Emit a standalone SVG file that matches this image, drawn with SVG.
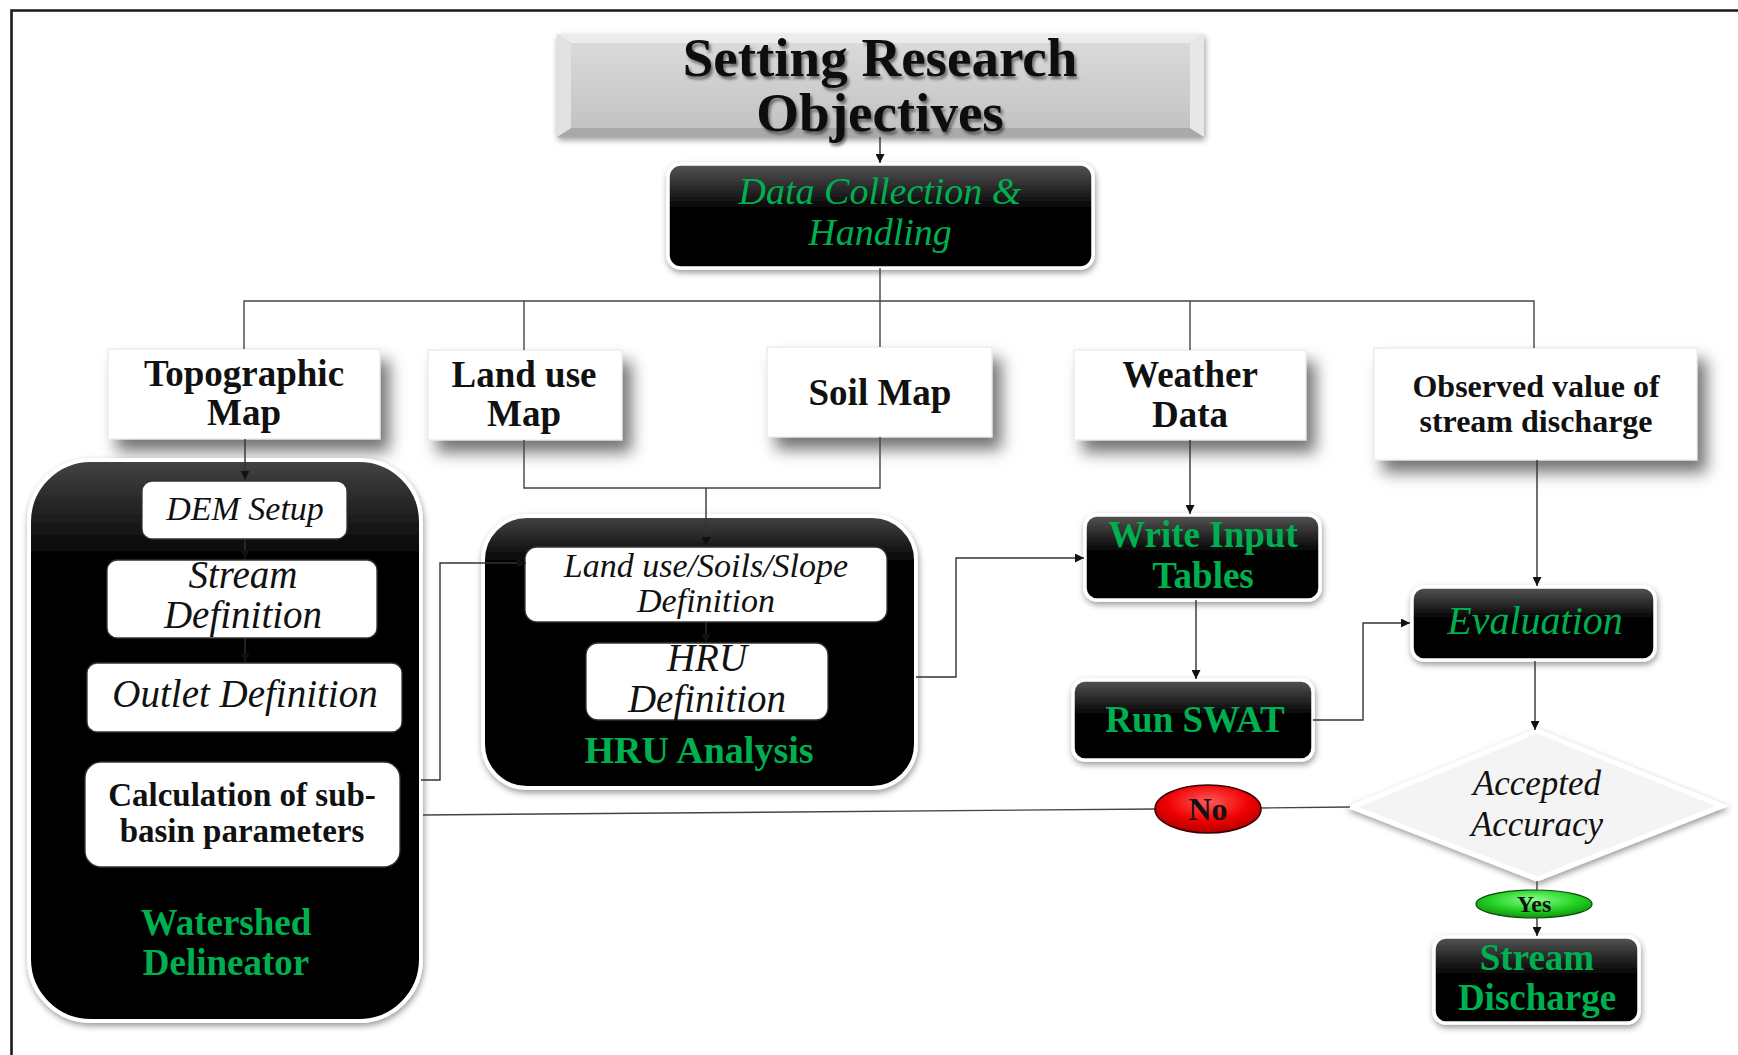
<svg xmlns="http://www.w3.org/2000/svg" width="1738" height="1055" viewBox="0 0 1738 1055">
<defs>
  <linearGradient id="blkg" x1="0" y1="0" x2="0" y2="1">
    <stop offset="0" stop-color="#555"/>
    <stop offset="0.45" stop-color="#000"/>
    <stop offset="1" stop-color="#000"/>
  </linearGradient>
  <linearGradient id="blkbig" x1="0" y1="0" x2="0" y2="1">
    <stop offset="0" stop-color="#444"/>
    <stop offset="0.18" stop-color="#000"/>
    <stop offset="1" stop-color="#000"/>
  </linearGradient>
  <linearGradient id="titleg" x1="0" y1="0" x2="0" y2="1">
    <stop offset="0" stop-color="#dadada"/>
    <stop offset="1" stop-color="#c3c3c3"/>
  </linearGradient>
  <radialGradient id="redg" cx="0.5" cy="0.35" r="0.65">
    <stop offset="0" stop-color="#ff5a5a"/>
    <stop offset="0.6" stop-color="#f00000"/>
    <stop offset="1" stop-color="#b00000"/>
  </radialGradient>
  <radialGradient id="grng" cx="0.5" cy="0.35" r="0.65">
    <stop offset="0" stop-color="#8cff8c"/>
    <stop offset="0.6" stop-color="#22d022"/>
    <stop offset="1" stop-color="#109010"/>
  </radialGradient>
  <filter id="bigsh" x="-20%" y="-20%" width="150%" height="170%">
    <feDropShadow dx="9" dy="12" stdDeviation="8" flood-color="#000" flood-opacity="0.55"/>
  </filter>
  <filter id="smsh" x="-10%" y="-10%" width="125%" height="130%">
    <feDropShadow dx="1" dy="3" stdDeviation="3" flood-color="#000" flood-opacity="0.4"/>
  </filter>
  <filter id="tsh" x="-10%" y="-20%" width="120%" height="150%">
    <feDropShadow dx="2" dy="3" stdDeviation="1.6" flood-color="#000" flood-opacity="0.5"/>
  </filter>
  <marker id="ah" viewBox="0 0 10 10" refX="10" refY="5" markerWidth="10" markerHeight="9" markerUnits="userSpaceOnUse" orient="auto">
    <path d="M0,0 L10,5 L0,10 z" fill="#111"/>
  </marker>
  <style>
    .t{font-family:"Liberation Serif","DejaVu Serif",serif;text-anchor:middle}
    .b{font-weight:bold}
    .i{font-style:italic}
    .g{fill:#00b050}
    .k{fill:#111}
    .map{fill:#fff;stroke:#e4e4e4;stroke-width:1;filter:url(#bigsh)}
    .blk{fill:url(#blkg);stroke:#fff;stroke-width:3.5;filter:url(#smsh)}
    .big{fill:url(#blkbig);stroke:#fff;stroke-width:4;filter:url(#smsh)}
    .inn{fill:#fff;stroke:#333;stroke-width:1.3}
    .ln{fill:none;stroke:#444;stroke-width:1.4}
    .ar{fill:none;stroke:#333;stroke-width:1.4;marker-end:url(#ah)}
  </style>
</defs>
<rect width="1738" height="1055" fill="#fff"/>
<path d="M11.5,1055 V10.5 H1738" fill="none" stroke="#1a1a1a" stroke-width="2.6"/>

<g id="title">
  <g filter="url(#smsh)">
    <rect x="557" y="34" width="647" height="103" fill="#c8c8c8"/>
    <polygon points="557,34 1204,34 1190,43 571,43" fill="#ececec"/>
    <polygon points="557,137 1204,137 1190,128 571,128" fill="#a9a9a9"/>
    <polygon points="557,34 571,43 571,128 557,137" fill="#e2e2e2"/>
    <polygon points="1204,34 1190,43 1190,128 1204,137" fill="#e8e8e8"/>
    <rect x="571" y="43" width="619" height="85" fill="url(#titleg)"/>
  </g>
  <g filter="url(#tsh)">
    <text class="t b k" x="880" y="76" font-size="55">Setting Research</text>
    <text class="t b k" x="880" y="131" font-size="55">Objectives</text>
  </g>
</g>

<g id="data-collection">
  <rect class="blk" x="668" y="164" width="425" height="104" rx="13"/>
  <text class="t i g" x="880" y="204" font-size="38">Data Collection &amp;</text>
  <text class="t i g" x="880" y="245" font-size="38">Handling</text>
</g>

<g id="topographic-map">
  <rect class="map" x="108" y="349" width="272" height="90"/>
  <text class="t b k" x="244" y="386" font-size="37">Topographic</text>
  <text class="t b k" x="244" y="425" font-size="37">Map</text>
</g>
<g id="land-use-map">
  <rect class="map" x="428" y="350" width="194" height="90"/>
  <text class="t b k" x="524" y="387" font-size="37">Land use</text>
  <text class="t b k" x="524" y="426" font-size="37">Map</text>
</g>
<g id="soil-map">
  <rect class="map" x="767" y="347" width="225" height="90"/>
  <text class="t b k" x="880" y="405" font-size="37">Soil Map</text>
</g>
<g id="weather-data">
  <rect class="map" x="1074" y="350" width="232" height="90"/>
  <text class="t b k" x="1190" y="387" font-size="37">Weather</text>
  <text class="t b k" x="1190" y="427" font-size="37">Data</text>
</g>
<g id="observed-discharge">
  <rect class="map" x="1374" y="348" width="323" height="112"/>
  <text class="t b k" x="1536" y="397" font-size="32">Observed value of</text>
  <text class="t b k" x="1536" y="432" font-size="32">stream discharge</text>
</g>

<g id="watershed-delineator">
  <rect class="big" x="29" y="460" width="392" height="561" rx="62"/>
  <text class="t b g" x="226" y="935" font-size="37">Watershed</text>
  <text class="t b g" x="226" y="975" font-size="37">Delineator</text>
</g>
<g id="dem-setup">
  <rect class="inn" x="142" y="481" width="205" height="58" rx="10"/>
  <text class="t i k" x="245" y="520" font-size="34">DEM Setup</text>
</g>
<g id="stream-definition">
  <rect class="inn" x="107" y="560" width="270" height="78" rx="10"/>
  <text class="t i k" x="243" y="588" font-size="39">Stream</text>
  <text class="t i k" x="243" y="628" font-size="39">Definition</text>
</g>
<g id="outlet-definition">
  <rect class="inn" x="87" y="663" width="315" height="69" rx="10"/>
  <text class="t i k" x="245" y="707" font-size="39">Outlet Definition</text>
</g>
<g id="subbasin-parameters">
  <rect class="inn" x="85" y="762" width="315" height="105" rx="16" stroke="none"/>
  <text class="t b k" x="242" y="806" font-size="33">Calculation of sub-</text>
  <text class="t b k" x="242" y="842" font-size="33">basin parameters</text>
</g>

<g id="hru-analysis">
  <rect class="big" x="483" y="516" width="433" height="272" rx="44"/>
  <text class="t b g" x="699" y="763" font-size="38">HRU Analysis</text>
</g>
<g id="landuse-soils-slope">
  <rect class="inn" x="525" y="547" width="362" height="75" rx="12"/>
  <text class="t i k" x="706" y="577" font-size="34">Land use/Soils/Slope</text>
  <text class="t i k" x="706" y="612" font-size="34">Definition</text>
</g>
<g id="hru-definition">
  <rect class="inn" x="586" y="643" width="242" height="77" rx="12"/>
  <text class="t i k" x="707" y="671" font-size="39">HRU</text>
  <text class="t i k" x="707" y="712" font-size="39">Definition</text>
</g>

<g id="write-input-tables">
  <rect class="blk" x="1085" y="515" width="235" height="85" rx="12"/>
  <text class="t b g" x="1203" y="547" font-size="37">Write Input</text>
  <text class="t b g" x="1203" y="588" font-size="37">Tables</text>
</g>
<g id="run-swat">
  <rect class="blk" x="1073" y="680" width="240" height="80" rx="12"/>
  <text class="t b g" x="1195" y="732" font-size="37">Run SWAT</text>
</g>
<g id="evaluation">
  <rect class="blk" x="1412" y="587" width="243" height="73" rx="12"/>
  <text class="t i g" x="1535" y="634" font-size="40">Evaluation</text>
</g>

<g id="accepted-accuracy">
  <polygon points="1537,731 1722,806 1537,879 1352,807" fill="#f4f4f4" stroke="#fff" stroke-width="5" filter="url(#smsh)"/>
  <text class="t i k" x="1537" y="795" font-size="35">Accepted</text>
  <text class="t i k" x="1537" y="836" font-size="35">Accuracy</text>
</g>
<g id="stream-discharge">
  <rect class="blk" x="1434" y="937" width="205" height="86" rx="12"/>
  <text class="t b g" x="1537" y="970" font-size="37">Stream</text>
  <text class="t b g" x="1537" y="1010" font-size="37">Discharge</text>
</g>

<g id="connectors">
  <line class="ar" x1="880" y1="137" x2="880" y2="163"/>
  <path class="ln" d="M880,268 V347 M880,301 H244 V349 M524,301 V350 M880,301 H1534 V348 M1190,301 V350"/>
  <line class="ar" x1="245" y1="439" x2="245" y2="480"/>
  <line class="ar" x1="245" y1="539" x2="245" y2="559"/>
  <line class="ar" x1="245" y1="638" x2="245" y2="662"/>
  <path class="ln" d="M524,440 V488 H880 V437"/>
  <line class="ar" x1="706" y1="488" x2="706" y2="546"/>
  <line class="ar" x1="706" y1="622" x2="706" y2="643"/>
  <path class="ar" d="M421,780 H440 V563 H526"/>
  <path class="ar" d="M916,677 H956 V558 H1084"/>
  <line class="ar" x1="1190" y1="440" x2="1190" y2="514"/>
  <line class="ar" x1="1196" y1="600" x2="1196" y2="679"/>
  <path class="ar" d="M1313,720 H1363 V623 H1410"/>
  <line class="ar" x1="1537" y1="460" x2="1537" y2="586"/>
  <line class="ar" x1="1535" y1="661" x2="1535" y2="730"/>
  <line class="ln" x1="423" y1="815" x2="1156" y2="809"/>
  <line class="ln" x1="1260" y1="808" x2="1350" y2="807"/>
  <line class="ln" x1="1537" y1="881" x2="1537" y2="890"/>
  <line class="ar" x1="1537" y1="918" x2="1537" y2="936"/>
</g>

<g id="no-label">
  <ellipse cx="1208" cy="809" rx="53" ry="24" fill="url(#redg)" stroke="#3a0000" stroke-width="1.5"/>
  <text class="t b k" x="1208" y="820" font-size="32">No</text>
</g>
<g id="yes-label">
  <ellipse cx="1534" cy="904" rx="58" ry="14" fill="url(#grng)" stroke="#0a4a0a" stroke-width="1.2"/>
  <text class="t b k" x="1534" y="912" font-size="24">Yes</text>
</g>
</svg>
